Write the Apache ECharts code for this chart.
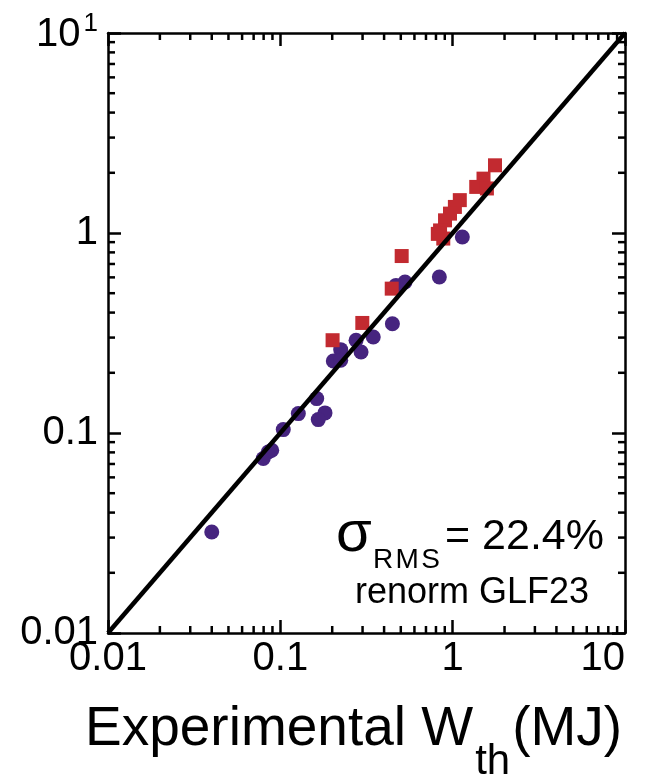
<!DOCTYPE html>
<html>
<head>
<meta charset="utf-8">
<script src="https://cdn.jsdelivr.net/npm/echarts@6/dist/echarts.min.js"></script>
<style>
html,body{margin:0;padding:0;background:#fff;}
#chart{width:652px;height:781px;}
</style>
</head>
<body>
<div id="chart"></div>
<script>
// ---- data ----
const xTickLabels = ['0.01', '0.1', '1', '10'];
const yTickLabels = ['0.01', '0.1', '1', '{a|10}{s|1}'];
const tickValues = [0.01, 0.1, 1, 10];
const minorTickValues = [0.02,0.03,0.04,0.05,0.06,0.07,0.08,0.09,
                         0.2,0.3,0.4,0.5,0.6,0.7,0.8,0.9,
                         2,3,4,5,6,7,8,9];
const redX = [1.76, 1.51, 1.37, 1.58, 1.10, 1.03, 0.965, 0.903, 0.845, 0.882, 0.82, 0.506, 0.443, 0.299, 0.201];
const redY = [2.18, 1.87, 1.70, 1.67, 1.46, 1.35, 1.25, 1.157, 1.03, 0.938, 0.99, 0.767, 0.527, 0.355, 0.291];
const blueX = [1.138, 0.837, 0.529, 0.469, 0.447, 0.346, 0.275, 0.294, 0.224, 0.203, 0.224, 0.1626, 0.1272, 0.1816, 0.166, 0.104, 0.0851, 0.0796, 0.0891, 0.040];
const blueY = [0.955, 0.603, 0.569, 0.547, 0.352, 0.302, 0.291, 0.254, 0.261, 0.229, 0.231, 0.1486, 0.125, 0.126, 0.1167, 0.104, 0.0804, 0.0745, 0.082, 0.032];
const lineX = [0.01, 10];
const lineY = [0.01, 10];
const xTitleMain = 'Experimental W';
const xTitleSub = 'th';
const xTitleEnd = '(MJ)';
const annSigma = 'σ';
const annSub = 'R\u200AM\u200AS';
const annValue = '= 22.4%';
const annModel = 'renorm GLF23';

// ---- chart ----
const FONT = '"Liberation Sans", Arial, Helvetica, sans-serif';
const chart = echarts.init(document.getElementById('chart'), null, {renderer: 'canvas'});
const zip = (a, b) => a.map((v, i) => [v, b[i]]);
const labelFor = (labels) => (v) => {
  let best = 0, bd = Infinity;
  tickValues.forEach((t, i) => { const d = Math.abs(Math.log10(v) - Math.log10(t)); if (d < bd) { bd = d; best = i; } });
  return labels[best];
};
const axisCommon = {
  type: 'log', logBase: 10, min: 0.01, max: 10,
  axisLine: {show: true, onZero: false, lineStyle: {color: '#000', width: 2.5}},
  axisTick: {show: true, inside: true, length: 13, lineStyle: {color: '#000', width: 2.5}},
  splitLine: {show: false},
  minorTick: {show: false},
  minorSplitLine: {show: false}
};

const ctx = document.createElement('canvas').getContext('2d');
function tw(txt, size) { ctx.font = size + 'px ' + FONT; return ctx.measureText(txt).width; }

const titleSize = 55, subSize = 42;
const titleLeft = 85, titleBase = 753;
const w1 = tw(xTitleMain, titleSize), w2 = tw(xTitleSub, subSize);

chart.setOption({
  animation: false,
  backgroundColor: '#fff',
  grid: {left: 108, right: 27, top: 33, bottom: 148, containLabel: false},
  xAxis: [
    Object.assign({}, axisCommon, {position: 'bottom',
      axisLabel: {show: true, fontSize: 40, color: '#000', fontFamily: FONT, margin: 6, showMinLabel: true, showMaxLabel: true,
        alignMaxLabel: 'right', formatter: labelFor(xTickLabels)}}),
    Object.assign({}, axisCommon, {position: 'top', axisLabel: {show: false}})
  ],
  yAxis: [
    Object.assign({}, axisCommon, {position: 'left',
      axisLabel: {show: true, fontSize: 40, color: '#000', fontFamily: FONT, margin: 10, showMinLabel: true, showMaxLabel: true,
        formatter: labelFor(yTickLabels),
        rich: {a: {fontSize: 40, fontFamily: FONT, color: '#000', lineHeight: 44, verticalAlign: 'bottom'},
               s: {fontSize: 26, fontFamily: FONT, color: '#000', lineHeight: 44, verticalAlign: 'top', padding: [0, 0, 0, 3]}}}}),
    Object.assign({}, axisCommon, {position: 'right', axisLabel: {show: false}})
  ],
  series: [
    {
      type: 'custom', name: 'minor', xAxisIndex: 0, yAxisIndex: 0, z: 5, silent: true,
      data: minorTickValues.map(v => [v, v]),
      renderItem: function (params, api) {
        const v = api.value(0);
        const b = api.coord([v, 0.01]), t = api.coord([v, 10]);
        const l = api.coord([0.01, v]), r = api.coord([10, v]);
        const st = {stroke: '#000', lineWidth: 2.5};
        const L = 7;
        return {type: 'group', children: [
          {type: 'line', shape: {x1: b[0], y1: b[1], x2: b[0], y2: b[1] - L}, style: st},
          {type: 'line', shape: {x1: t[0], y1: t[1], x2: t[0], y2: t[1] + L}, style: st},
          {type: 'line', shape: {x1: l[0], y1: l[1], x2: l[0] + L, y2: l[1]}, style: st},
          {type: 'line', shape: {x1: r[0], y1: r[1], x2: r[0] - L, y2: r[1]}, style: st}
        ]};
      }
    },
    {
      type: 'scatter', name: 'blue', data: zip(blueX, blueY), symbol: 'circle', symbolSize: 15, z: 2,
      itemStyle: {color: '#46247f', opacity: 1}
    },
    {
      type: 'scatter', name: 'red', data: zip(redX, redY), symbol: 'rect', symbolSize: 14, z: 3,
      itemStyle: {color: '#c22a30', opacity: 1}
    },
    {
      type: 'line', name: 'fit', data: zip(lineX, lineY), symbol: 'none', z: 4,
      lineStyle: {color: '#000', width: 4.5}
    }
  ],
  graphic: [
    {type: 'text', left: titleLeft, top: titleBase - 0.93 * titleSize, style: {text: xTitleMain, font: titleSize + 'px ' + FONT, fill: '#000'}},
    {type: 'text', left: titleLeft + w1 + 2, top: titleBase + 27 - 0.93 * subSize, style: {text: xTitleSub, font: subSize + 'px ' + FONT, fill: '#000'}},
    {type: 'text', left: titleLeft + w1 + w2 + 4, top: titleBase - 0.93 * titleSize, style: {text: xTitleEnd, font: titleSize + 'px ' + FONT, fill: '#000'}},
    {type: 'text', left: 336, top: 506, style: {text: annSigma, font: '58px ' + FONT, fill: '#000'}},
    {type: 'text', left: 373, top: 546, style: {text: annSub, font: '28px ' + FONT, fill: '#000'}},
    {type: 'text', left: 445, top: 516, style: {text: annValue, font: '43px ' + FONT, fill: '#000'}},
    {type: 'text', left: 355, top: 575, style: {text: annModel, font: '36px ' + FONT, fill: '#000'}}
  ]
});
</script>
</body>
</html>
